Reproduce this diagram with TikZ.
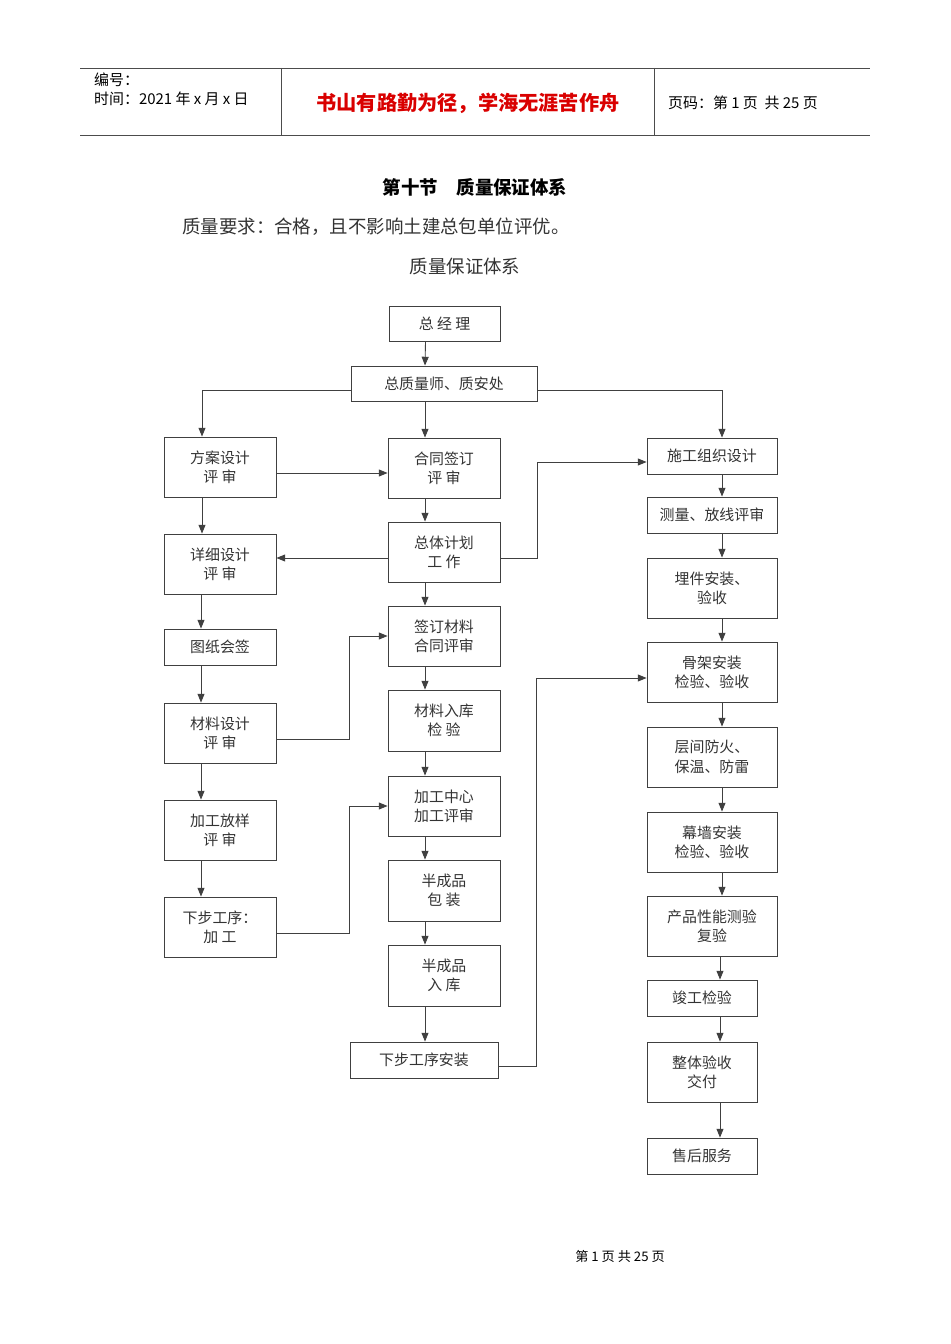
\documentclass[tikz,border=0pt]{standalone}
\usepackage{fontspec}
\setmainfont{Noto Sans CJK SC}
\usetikzlibrary{arrows.meta}
\tikzset{
 box/.style={draw=black!75,line width=0.5pt,inner sep=0pt,align=center,font=\fontsize{8.5pt}{11pt}\selectfont,text=black!80},
 arr/.style={draw=black!75,line width=0.5pt,-{Triangle[length=5pt,width=4pt]}},
 rule/.style={draw=black!70,line width=0.5pt}
}
\newcommand{\bx}[6]{\node[box,minimum width={(#4-#2)*0.02cm},minimum height={(#5-#3)*0.02cm}] (#1) at ({(#2+#4)/2},{(#3+#5)/2}) {#6};}
\newcommand{\chn}[3]{\draw[arr] ([xshift=#3cm]#1.south) -- ([xshift=#3cm]#2.north);}
\begin{document}
\begin{tikzpicture}[x=0.02cm,y=-0.02cm]
\useasboundingbox (0,0) rectangle (950,1344);
% header
\draw[rule] (80,68) -- (870,68);
\draw[rule] (80,135) -- (870,135);
\draw[rule] (281,68) -- (281,135);
\draw[rule] (654,68) -- (654,135);
\node[anchor=west,font=\fontsize{8.5pt}{10pt}\selectfont] (h1) at (88,80) {编号：};
\node[anchor=west,font=\fontsize{8.5pt}{10pt}\selectfont] (h2) at (88,99) {时间：2021 年 x 月 x 日};
\node[font=\fontsize{11.5pt}{13pt}\selectfont\bfseries,text=red!85!black] (h3) at (468,103) {书山有路勤为径，学海无涯苦作舟};
\node[anchor=west,font=\fontsize{8.5pt}{10pt}\selectfont] (h4) at (662,103) {页码：第 1 页\ \ 共 25 页};
\node[font=\fontsize{10.5pt}{12pt}\selectfont\bfseries] (t1) at (475,187) {第十节\quad 质量保证体系};
\node[anchor=west,font=\fontsize{10.5pt}{12pt}\selectfont,text=black!80] (t2) at (176,227) {质量要求：合格，且不影响土建总包单位评优。};
\node[font=\fontsize{10.5pt}{12pt}\selectfont,text=black!80] (t3) at (465,267) {质量保证体系};
\node[font=\fontsize{7.5pt}{9pt}\selectfont] (ft) at (620,1256) {第\ 1\ 页\ 共\ 25\ 页};
% boxes
\bx{zjl}{389}{306}{500}{341}{总\ 经\ 理}
\bx{zzl}{351}{366}{537}{401}{总质量师、质安处}
\bx{fa}{164}{437}{276}{497}{方案设计\\评\ 审}
\bx{xx}{164}{534}{276}{594}{详细设计\\评\ 审}
\bx{tz}{164}{629}{276}{665}{图纸会签}
\bx{cl}{164}{703}{276}{763}{材料设计\\评\ 审}
\bx{jg}{164}{800}{276}{860}{加工放样\\评\ 审}
\bx{xb}{164}{897}{276}{957}{下步工序：\\加\ 工}
\bx{ht}{388}{438}{500}{498}{合同签订\\评\ 审}
\bx{zt}{388}{522}{500}{582}{总体计划\\工\ 作}
\bx{qd}{388}{606}{500}{666}{签订材料\\合同评审}
\bx{rk}{388}{690}{500}{751}{材料入库\\检\ 验}
\bx{jz}{388}{776}{500}{836}{加工中心\\加工评审}
\bx{bb}{388}{860}{500}{921}{半成品\\包\ 装}
\bx{br}{388}{945}{500}{1006}{半成品\\入\ 库}
\bx{xa}{350}{1042}{498}{1078}{下步工序安装}
\bx{sg}{647}{438}{777}{474}{施工组织设计}
\bx{cf}{647}{497}{777}{533}{测量、放线评审}
\bx{mj}{647}{558}{777}{618}{埋件安装、\\验收}
\bx{gj}{647}{642}{777}{702}{骨架安装\\检验、验收}
\bx{cj}{647}{727}{777}{787}{层间防火、\\保温、防雷}
\bx{mq}{647}{812}{777}{872}{幕墙安装\\检验、验收}
\bx{cp}{647}{896}{777}{956}{产品性能测验\\复验}
\bx{jj}{647}{980}{757}{1016}{竣工检验}
\bx{zs}{647}{1042}{757}{1102}{整体验收\\交付}
\bx{sh}{647}{1138}{757}{1174}{售后服务}
% connectors
\chn{zjl}{zzl}{-0.38}
\draw[arr] ([yshift=-0.13cm]zzl.west) -| ([xshift=-0.36cm]fa.north);
\draw[arr] ([yshift=-0.13cm]zzl.east) -| ([xshift=0.2cm]sg.north);
\chn{zzl}{ht}{-0.38}
\draw[arr] ([yshift=-0.12cm]fa.east) -- ([yshift=-0.12cm]fa.east -| ht.west);
\chn{ht}{zt}{-0.38}\chn{zt}{qd}{-0.38}\chn{qd}{rk}{-0.38}\chn{rk}{jz}{-0.38}
\chn{jz}{bb}{-0.38}\chn{bb}{br}{-0.38}
\draw[arr] ([xshift=-0.38cm]br.south) -- ([xshift=-0.38cm]br.south |- xa.north);
\draw[arr] ([yshift=-0.12cm]zt.west) -- ([yshift=-0.12cm]zt.west -| xx.east);
\draw[arr] ([yshift=-0.12cm]zt.east) -- ++(37,0) |- ([yshift=-0.12cm]sg.west);
\chn{fa}{xx}{-0.36}\chn{xx}{tz}{-0.38}\chn{tz}{cl}{-0.38}\chn{cl}{jg}{-0.38}\chn{jg}{xb}{-0.38}
\draw[arr] ([yshift=-0.12cm]cl.east) -| ([xshift=-0.76cm]qd.west) -- (qd.west);
\draw[arr] ([yshift=-0.12cm]xb.east) -| ([xshift=-0.76cm]jz.west) -- (jz.west);
\draw[arr] ([yshift=-0.12cm]xa.east) -- ++(38,0) |- ([yshift=-0.12cm]gj.west);
\chn{sg}{cf}{0.2}\chn{cf}{mj}{0.2}\chn{mj}{gj}{0.2}\chn{gj}{cj}{0.2}\chn{cj}{mq}{0.2}\chn{mq}{cp}{0.2}
\draw[arr] ([xshift=0.16cm]cp.south) -- ([xshift=0.16cm]cp.south |- jj.north);
\chn{jj}{zs}{0.36}\chn{zs}{sh}{0.36}
\end{tikzpicture}
\end{document}
